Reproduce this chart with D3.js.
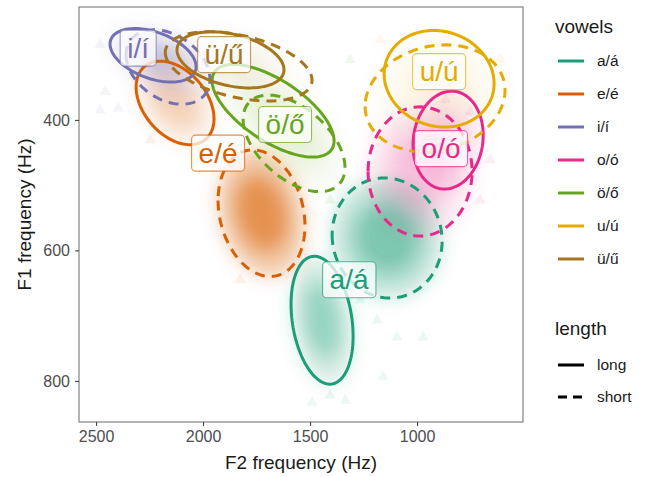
<!DOCTYPE html>
<html>
<head>
<meta charset="utf-8">
<script src="https://cdn.jsdelivr.net/npm/d3@7"></script>
<style>
  html, body { margin: 0; padding: 0; background: #fff; }
  svg { display: block; font-family: "Liberation Sans", Arial, sans-serif; }
</style>
</head>
<body>
<svg id="chart" width="648" height="477"></svg>
<script>
// ---------------- data ----------------
const vowels = ["a/á", "e/é", "i/í", "o/ó", "ö/ő", "u/ú", "ü/ű"];
const vowelColors = ["#1B9E77", "#D95F02", "#7570B3", "#E7298A", "#66A61E", "#E6AB02", "#A6761D"];
const lengths = ["long", "short"];

// ellipse summaries (F2 / F1 in Hz)
const ellVowel  = ["a/á","a/á","e/é","e/é","i/í","i/í","o/ó","o/ó","ö/ő","ö/ő","u/ú","u/ú","ü/ű","ü/ű"];
const ellLength = ["long","short","long","short","long","short","long","short","long","short","long","short","long","short"];
const ellF2     = [1444, 1140, 2131, 1727, 2234, 2164,  855,  986, 1673, 1575,  897,  916, 1872, 1834];
const ellF1     = [ 707,  581,  374,  543,  301,  319,  431,  479,  386,  436,  337,  367,  308,  318];
const ellRadF2  = [ 145,  257,  182,  203,  201,  196,  164,  243,  285,  238,  257,  327,  250,  343];
const ellRadF1  = [  98,   92,   64,   97,   41,   57,   75,   99,   71,   74,   74,   82,   43,   53];
const ellRho    = [-0.25,-0.05,-0.38,-0.2,-0.42,-0.33, 0.1,  0.0, -0.65,-0.5,-0.1, 0.15,-0.35,-0.4];

// label positions (F2 / F1 in Hz)
const labelF2 = [1318, 1930, 2304,  888, 1617,  897, 1902];
const labelF1 = [ 645,  451,  290,  444,  407,  326,  300];

// individual stray tokens visible outside the dense clouds
const strayVowel = ["a/á","a/á","a/á","a/á","a/á","a/á","a/á","a/á","i/í","i/í","i/í","i/í","o/ó","o/ó","o/ó","o/ó","u/ú","u/ú","ö/ő","ö/ő","e/é","e/é"];
const strayF2    = [1159, 1093,  972, 1187, 1266, 1491, 1407, 1336, 2481, 2458, 2397, 2481,  752,  659,  869,  706,  612, 1173, 1407, 1313, 2248, 1827];
const strayF1    = [ 794,  733,  733,  707,  676,  833,  822,  830,  285,  357,  382,  385,  388,  461,  369,  523,  308,  277,  523,  308,  431,  645];

const xTicks = [2500, 2000, 1500, 1000];
const yTicks = [400, 600, 800];

// ---------------- layout ----------------
const svg = d3.select("#chart");
const P = { left: 79, top: 7, right: 523, bottom: 422 };

const x = d3.scaleLinear().domain([2580, 505]).range([P.left, P.right]);
const y = d3.scaleLinear().domain([227, 863]).range([P.top, P.bottom]);
const color = d3.scaleOrdinal().domain(vowels).range(vowelColors);
const dash = d3.scaleOrdinal().domain(lengths).range(["none", "10,7"]);

// cloud density style per vowel / length
const cloudOpacity = {
  "a/á": [0.45, 0.6], "e/é": [0.26, 0.75], "i/í": [0.28, 0.14], "o/ó": [0.16, 0.26],
  "ö/ő": [0.1, 0.1], "u/ú": [0.06, 0.05], "ü/ű": [0.05, 0.04]
};

const defs = svg.append("defs");
defs.append("clipPath").attr("id", "panelClip")
  .append("rect").attr("x", P.left).attr("y", P.top)
  .attr("width", P.right - P.left).attr("height", P.bottom - P.top);
defs.append("filter").attr("id", "blur").attr("x", "-40%").attr("y", "-40%").attr("width", "180%").attr("height", "180%")
  .append("feGaussianBlur").attr("stdDeviation", 9);

const ellipses = ellVowel.map((v, i) => ({
  vowel: v, length: ellLength[i], f2: ellF2[i], f1: ellF1[i],
  a: ellRadF2[i], b: ellRadF1[i], rho: ellRho[i]
}));

function ellipsePts(e, k) {
  const s = Math.sqrt(1 - e.rho * e.rho);
  return d3.range(0, 121).map(j => {
    const t = j / 120 * 2 * Math.PI;
    return [e.f2 + k * e.a * Math.cos(t), e.f1 + k * e.b * (e.rho * Math.cos(t) + s * Math.sin(t))];
  });
}
const line = d3.line().x(d => x(d[0])).y(d => y(d[1])).curve(d3.curveLinearClosed);

const panel = svg.append("g").attr("clip-path", "url(#panelClip)");

// clouds (two soft layers per ellipse)
const clouds = panel.append("g").attr("filter", "url(#blur)");
[[1.0, 0.45], [0.6, 0.7]].forEach(([k, m]) => {
  clouds.append("g").selectAll("path").data(ellipses).join("path")
    .attr("d", e => line(ellipsePts(e, k)))
    .attr("fill", e => color(e.vowel))
    .attr("fill-opacity", e => cloudOpacity[e.vowel][lengths.indexOf(e.length)] * m)
    .attr("stroke", "none");
});

// stray tokens
const tri = d3.symbol().type(d3.symbolTriangle).size(55);
panel.append("g").selectAll("path").data(strayVowel.map((v, i) => ({ v, f2: strayF2[i], f1: strayF1[i] })))
  .join("path")
  .attr("d", tri)
  .attr("transform", d => `translate(${x(d.f2)},${y(d.f1)})`)
  .attr("fill", d => color(d.v))
  .attr("fill-opacity", 0.08);

// ellipses
panel.append("g").selectAll("path").data(ellipses).join("path")
  .attr("d", e => line(ellipsePts(e, 1)))
  .attr("fill", "none")
  .attr("stroke", e => color(e.vowel))
  .attr("stroke-width", 3)
  .attr("stroke-dasharray", e => dash(e.length));

// labels
const lab = panel.append("g").selectAll("g").data(vowels.map((v, i) => ({ v, f2: labelF2[i], f1: labelF1[i] })))
  .join("g")
  .attr("transform", d => `translate(${x(d.f2)},${y(d.f1)})`);
lab.append("rect");
lab.append("text")
  .attr("text-anchor", "middle")
  .attr("dominant-baseline", "central")
  .attr("font-size", 28)
  .attr("fill", d => color(d.v))
  .text(d => d.v);
lab.each(function () {
  const g = d3.select(this);
  const bb = g.select("text").node().getBBox();
  const d = g.datum();
  g.select("rect")
    .attr("x", bb.x - 7).attr("y", -18)
    .attr("width", bb.width + 14).attr("height", 36)
    .attr("rx", 4).attr("ry", 4)
    .attr("fill", "#fff").attr("fill-opacity", 0.75)
    .attr("stroke", color(d.v)).attr("stroke-opacity", 0.7).attr("stroke-width", 1.1);
});

// panel border
svg.append("rect")
  .attr("x", P.left).attr("y", P.top)
  .attr("width", P.right - P.left).attr("height", P.bottom - P.top)
  .attr("fill", "none").attr("stroke", "#6b6b6b").attr("stroke-width", 1);

// axes
const xAxis = svg.append("g").attr("transform", `translate(0,${P.bottom})`)
  .call(d3.axisBottom(x).tickValues(xTicks).tickFormat(d3.format("d")).tickSize(4).tickPadding(5));
const yAxis = svg.append("g").attr("transform", `translate(${P.left},0)`)
  .call(d3.axisLeft(y).tickValues(yTicks).tickFormat(d3.format("d")).tickSize(4).tickPadding(5));
[xAxis, yAxis].forEach(a => {
  a.select(".domain").remove();
  a.selectAll(".tick line").attr("stroke", "#333");
  a.selectAll(".tick text").attr("fill", "#4d4d4d").attr("font-size", 16)
    .attr("font-family", "Liberation Sans, Arial, sans-serif");
});

svg.append("text").attr("x", (P.left + P.right) / 2).attr("y", 469)
  .attr("text-anchor", "middle").attr("font-size", 19).attr("fill", "#1a1a1a")
  .text("F2 frequency (Hz)");
svg.append("text").attr("transform", `translate(31,${(P.top + P.bottom) / 2}) rotate(-90)`)
  .attr("text-anchor", "middle").attr("font-size", 19).attr("fill", "#1a1a1a")
  .text("F1 frequency (Hz)");

// legend: vowels
const lg = svg.append("g");
lg.append("text").attr("x", 555).attr("y", 33).attr("font-size", 19).attr("fill", "#1a1a1a").text("vowels");
const vItems = lg.selectAll("g.v").data(vowels).join("g").attr("class", "v")
  .attr("transform", (d, i) => `translate(0,${61 + i * 33})`);
vItems.append("line").attr("x1", 558).attr("x2", 584).attr("y1", 0).attr("y2", 0)
  .attr("stroke", d => color(d)).attr("stroke-width", 3);
vItems.append("text").attr("x", 597).attr("y", 0).attr("dy", "0.35em")
  .attr("font-size", 15.5).attr("fill", "#1a1a1a").text(d => d);

// legend: length
lg.append("text").attr("x", 555).attr("y", 335).attr("font-size", 19).attr("fill", "#1a1a1a").text("length");
const lItems = lg.selectAll("g.l").data(lengths).join("g").attr("class", "l")
  .attr("transform", (d, i) => `translate(0,${365 + i * 32})`);
lItems.append("line").attr("x1", 558).attr("x2", 584).attr("y1", 0).attr("y2", 0)
  .attr("stroke", "#000").attr("stroke-width", 3)
  .attr("stroke-dasharray", d => d === "short" ? "9,6" : "none");
lItems.append("text").attr("x", 597).attr("y", 0).attr("dy", "0.35em")
  .attr("font-size", 15.5).attr("fill", "#1a1a1a").text(d => d);
</script>
</body>
</html>
